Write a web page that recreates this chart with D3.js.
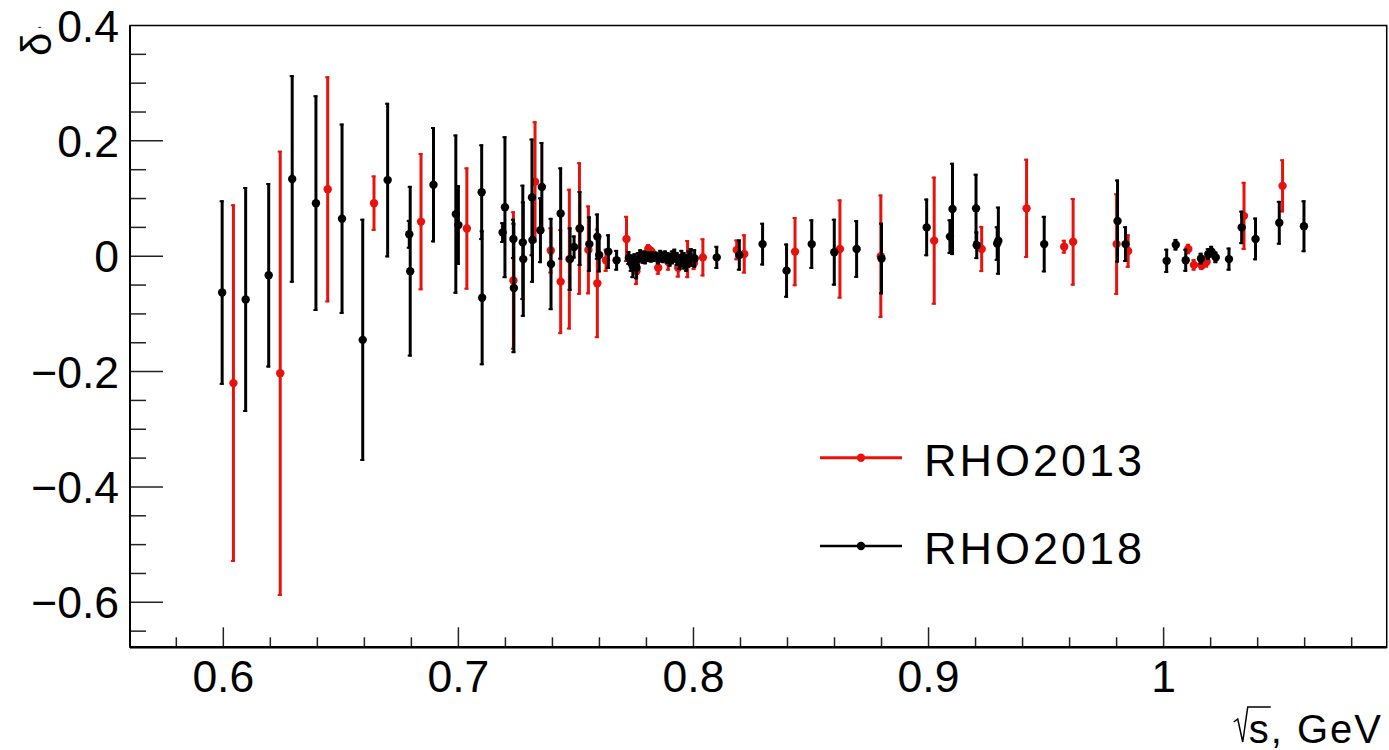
<!DOCTYPE html>
<html>
<head>
<meta charset="utf-8">
<script src="https://cdn.jsdelivr.net/npm/d3@7"></script>
<style>
  body { margin: 0; background: #fff; }
  svg { display: block; font-family: "Liberation Sans", Arial, Helvetica, sans-serif; }
</style>
</head>
<body>
<div id="chart"></div>
<script>
// RHO2013 (red)
var rho2013X = [0.6043, 0.6242, 0.6444, 0.6641, 0.6841, 0.7036, 0.7234, 0.7326, 0.7393, 0.7435,
    0.7472, 0.7515, 0.7553, 0.7591, 0.7628, 0.7715, 0.7757, 0.7808, 0.7822, 0.785,
    0.7893, 0.7935, 0.7975, 0.8002, 0.804, 0.8184, 0.8216, 0.8432, 0.8623, 0.8797,
    0.9024, 0.9226, 0.9417, 0.9577, 0.9615, 0.98, 0.9849, 1.0105, 1.0129, 1.0162,
    1.0183, 1.0342, 1.0506]
var rho2013Y = [-0.22, -0.203, 0.116, 0.092, 0.06, 0.048, -0.042, 0.129, 0.01, -0.044,
    -0.005, 0.048, 0.011, -0.047, -0.007, 0.03, -0.026, 0.013, 0.008, -0.02,
    -0.01, -0.02, -0.005, -0.012, -0.002, 0.011, 0.004, 0.008, 0.0125, 0,
    0.027, 0.0125, 0.083, 0.0165, 0.025, 0.021, 0.009, 0.0125, -0.015, -0.016,
    -0.0095, 0.07, 0.122]
var rho2013Err = [0.31, 0.386, 0.196, 0.048, 0.119, 0.106, 0.12, 0.105, 0.04, 0.091,
    0.122, 0.115, 0.077, 0.095, 0.02, 0.04, 0.024, 0.008, 0.008, 0.012,
    0.015, 0.017, 0.033, 0.012, 0.033, 0.018, 0.034, 0.06, 0.086, 0.107,
    0.111, 0.04, 0.086, 0.012, 0.076, 0.088, 0.029, 0.009, 0.01, 0.008,
    0.01, 0.059, 0.046]

// RHO2018 (black)
var rho2018X = [0.5995, 0.6095, 0.6193, 0.6293, 0.6394, 0.6505, 0.6593, 0.6699, 0.6791, 0.6795,
    0.6894, 0.6989, 0.7, 0.7099, 0.7101, 0.7188, 0.7198, 0.7234, 0.7236, 0.7274,
    0.7276, 0.7313, 0.7315, 0.7349, 0.7355, 0.7394, 0.7435, 0.7475, 0.7492, 0.7517,
    0.7557, 0.7591, 0.7599, 0.7638, 0.7673,
    0.7725, 0.7735, 0.7742, 0.775, 0.7758, 0.7765, 0.7775, 0.7785, 0.779, 0.7795,
    0.78, 0.7805, 0.781, 0.782, 0.7825, 0.783, 0.784, 0.785, 0.786, 0.787,
    0.788, 0.789, 0.79, 0.791, 0.792, 0.793, 0.794, 0.795, 0.796, 0.797,
    0.798, 0.799, 0.8005,
    0.8099, 0.8195, 0.8294, 0.8396, 0.8503, 0.8599, 0.8694, 0.88, 0.8992, 0.9091,
    0.9102, 0.9202, 0.9205, 0.9292, 0.9297, 0.9492, 0.9804, 0.9838, 1.0013, 1.0052,
    1.0094, 1.0159, 1.019, 1.0204, 1.0222, 1.0278, 1.0332, 1.0391, 1.0492, 1.0597]
var rho2018Y = [-0.063, -0.075, -0.033, 0.134, 0.092, 0.065, -0.145, 0.132, 0.038, -0.026,
    0.124, 0.073, 0.054, 0.111, -0.072, 0.041, 0.085, 0.03, -0.055, 0.024,
    -0.005, 0.102, 0.028, 0.045, 0.12, -0.0135, 0.074, -0.005, 0.016, 0.048,
    0.021, 0.034, 0.002, 0.008, -0.007,
    -0.003, -0.012, -0.018, -0.01, -0.02, -0.005, 0.002, -0.003, 0, -0.004,
    0.001, -0.002, 0, -0.003, 0.001, -0.002, 0, -0.004, 0.001, -0.002,
    0, -0.003, -0.006, -0.002, 0.001, -0.005, -0.01, -0.004, -0.008, -0.012,
    -0.005, -0.002, -0.004,
    -0.002, 0.002, 0.021, -0.025, 0.021, 0.007, 0.0125, -0.004, 0.05, 0.034,
    0.082, 0.083, 0.019, 0.022, 0.027, 0.021, 0.061, 0.021, -0.008, 0.02,
    -0.007, -0.004, 0.004, 0.008, -0.002, -0.005, 0.05, 0.03, 0.058, 0.052]
var rho2018Err = [0.16, 0.195, 0.16, 0.18, 0.187, 0.165, 0.21, 0.134, 0.025, 0.148,
    0.1, 0.138, 0.069, 0.083, 0.117, 0.018, 0.123, 0.035, 0.113, 0.1,
    0.1, 0.102, 0.074, 0.057, 0.078, 0.08, 0.08, 0.055, 0.02, 0.065,
    0.048, 0.04, 0.03, 0.03, 0.018,
    0.012, 0.015, 0.02, 0.015, 0.02, 0.012, 0.01, 0.01, 0.01, 0.01,
    0.008, 0.008, 0.008, 0.008, 0.008, 0.008, 0.008, 0.01, 0.01, 0.01,
    0.01, 0.01, 0.012, 0.012, 0.012, 0.012, 0.014, 0.015, 0.015, 0.015,
    0.015, 0.016, 0.016,
    0.02, 0.027, 0.037, 0.047, 0.043, 0.058, 0.05, 0.062, 0.05, 0.03,
    0.08, 0.06, 0.024, 0.03, 0.059, 0.049, 0.072, 0.031, 0.021, 0.01,
    0.02, 0.01, 0.01, 0.01, 0.01, 0.02, 0.029, 0.037, 0.038, 0.045]

var xMajor = [0.6, 0.7, 0.8, 0.9, 1.0]
var xLabels = ['0.6', '0.7', '0.8', '0.9', '1']
var yMajor = [0.4, 0.2, 0, -0.2, -0.4, -0.6]
var yLabels = ['0.4', '0.2', '0', '\u22120.2', '\u22120.4', '\u22120.6']
var legendNames = ['RHO2013', 'RHO2018']
var colors = ['#e8120c', '#000000']

var width = 1389
var height = 750
var frameL = 130, frameR = 1386.7, frameT = 25.5, frameB = 647.3
var markerR = 4.2

var x = d3.scaleLinear().domain([0.5603, 1.0949]).range([frameL, frameR])
var y = d3.scaleLinear().domain([-0.678, 0.4]).range([frameB, frameT])

var svg = d3.select('#chart').append('svg')
    .attr('width', width)
    .attr('height', height)

// minor ticks
var xMinor = d3.range(58, 110, 2).map(function(d) { return d / 100 })
    .filter(function(d) { return x(d) > frameL + 1 && x(d) < frameR - 1 })
var yMinor = d3.range(-65, 41, 5).map(function(d) { return d / 100 })
    .filter(function(d) { return y(d) < frameB - 1 && y(d) > frameT + 1 })

svg.selectAll('.xminor').data(xMinor).enter().append('line')
    .attr('x1', x).attr('x2', x)
    .attr('y1', frameB).attr('y2', function(d) {
        return xMajor.some(function(m) { return Math.abs(m - d) < 1e-6 }) ? frameB - 20 : frameB - 10 })
    .attr('stroke', '#222').attr('stroke-width', 1.5)

svg.selectAll('.yminor').data(yMinor).enter().append('line')
    .attr('y1', y).attr('y2', y)
    .attr('x1', frameL).attr('x2', function(d) {
        return yMajor.some(function(m) { return Math.abs(m - d) < 1e-6 }) ? frameL + 33 : frameL + 16 })
    .attr('stroke', '#222').attr('stroke-width', 1.5)

// frame
svg.append('rect')
    .attr('x', frameL).attr('y', frameT)
    .attr('width', frameR - frameL).attr('height', frameB - frameT)
    .attr('fill', 'none').attr('stroke', '#000').attr('stroke-width', 1.5)
svg.append('line')
    .attr('x1', frameL).attr('x2', frameR).attr('y1', frameB).attr('y2', frameB)
    .attr('stroke', '#000').attr('stroke-width', 2.5)
svg.append('line')
    .attr('x1', frameL).attr('x2', frameL).attr('y1', frameT).attr('y2', frameB)
    .attr('stroke', '#000').attr('stroke-width', 2)

// tick labels
svg.selectAll('.xlab').data(xMajor).enter().append('text')
    .attr('x', x).attr('y', 692)
    .attr('text-anchor', 'middle')
    .attr('font-size', 44.5)
    .text(function(d, i) { return xLabels[i] })

svg.selectAll('.ylab').data(yMajor).enter().append('text')
    .attr('x', 119).attr('y', function(d) { return y(d) + 16 })
    .attr('text-anchor', 'end')
    .attr('font-size', 44.5)
    .text(function(d, i) { return yLabels[i] })

// axis titles
var xt = svg.append('text')
    .attr('x', 1383).attr('y', 743)
    .attr('text-anchor', 'end')
    .attr('font-size', 40)
    .attr('letter-spacing', 2)
    .text('s, GeV')
var sx = xt.node().getBBox().x
svg.append('path')
    .attr('d', 'M' + (sx - 15) + ',722 L' + (sx - 11) + ',719 L' + (sx - 6) + ',742 L' + (sx - 1) + ',707 L' + (sx + 22) + ',707')
    .attr('fill', 'none').attr('stroke', '#000').attr('stroke-width', 1.5)

svg.append('text')
    .attr('transform', 'translate(51,56) rotate(-90)')
    .attr('font-size', 42)
    .text('\u03b4')
svg.append('text')
    .attr('transform', 'translate(50,30) rotate(-90)')
    .attr('font-size', 16)
    .text('\u02c8')

// series
function drawSeries(xs, ys, errs, color) {
    var data = xs.map(function(d, i) { return { x: d, y: ys[i], e: errs[i] } })
    var g = svg.append('g')
    g.selectAll('.err').data(data).enter().append('line')
        .attr('x1', function(d) { return x(d.x) }).attr('x2', function(d) { return x(d.x) })
        .attr('y1', function(d) { return y(d.y + d.e) }).attr('y2', function(d) { return y(d.y - d.e) })
        .attr('stroke', color).attr('stroke-width', 3)
    g.selectAll('.capt').data(data).enter().append('line')
        .attr('x1', function(d) { return x(d.x) - 2.5 }).attr('x2', function(d) { return x(d.x) + 1.5 })
        .attr('y1', function(d) { return y(d.y + d.e) + 1 }).attr('y2', function(d) { return y(d.y + d.e) + 1 })
        .attr('stroke', color).attr('stroke-width', 2)
    g.selectAll('.capb').data(data).enter().append('line')
        .attr('x1', function(d) { return x(d.x) - 2.5 }).attr('x2', function(d) { return x(d.x) + 1.5 })
        .attr('y1', function(d) { return y(d.y - d.e) - 1 }).attr('y2', function(d) { return y(d.y - d.e) - 1 })
        .attr('stroke', color).attr('stroke-width', 2)
    g.selectAll('.dot').data(data).enter().append('circle')
        .attr('cx', function(d) { return x(d.x) }).attr('cy', function(d) { return y(d.y) })
        .attr('r', markerR)
        .attr('fill', color)
}

drawSeries(rho2013X, rho2013Y, rho2013Err, colors[0])
drawSeries(rho2018X, rho2018Y, rho2018Err, colors[1])

// legend
var legendY = [457.7, 546]
legendNames.forEach(function(name, i) {
    svg.append('line')
        .attr('x1', 820).attr('x2', 902)
        .attr('y1', legendY[i]).attr('y2', legendY[i])
        .attr('stroke', colors[i]).attr('stroke-width', i === 0 ? 3 : 2.5)
    svg.append('circle')
        .attr('cx', 861).attr('cy', legendY[i]).attr('r', markerR)
        .attr('fill', colors[i])
    svg.append('text')
        .attr('x', 924).attr('y', legendY[i] + 18)
        .attr('font-size', 45)
        .attr('letter-spacing', 3)
        .text(name)
})
</script>
</body>
</html>
